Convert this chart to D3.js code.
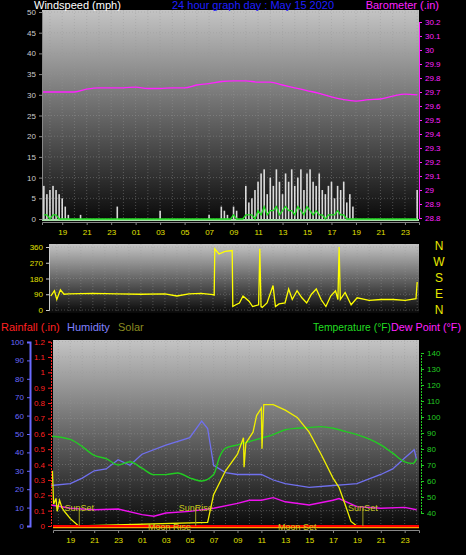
<!DOCTYPE html>
<html><head><meta charset="utf-8">
<script src="https://cdn.jsdelivr.net/npm/d3@7"></script>
<style>body{margin:0;background:#000}svg{display:block;font-family:"Liberation Sans",Arial,sans-serif}</style>
</head><body>
<svg width="466" height="555"></svg>
<script>
const svg = d3.select("svg");

// hours counted from midnight of the previous day (25 = 01:00)
const hourTicks = [19, 21, 23, 25, 27, 29, 31, 33, 35, 37, 39, 41, 43, 45, 47];

const baroTimes = [17.4, 19, 20, 21, 22, 23, 24, 25, 26, 27, 28, 29, 30, 31, 32, 33, 34, 35, 36, 37, 38, 39, 40, 41, 42, 43, 44, 45, 46, 47, 48];
const baroValues = [29.70, 29.70, 29.70, 29.72, 29.73, 29.73, 29.73, 29.735, 29.725, 29.725, 29.73, 29.73, 29.75, 29.76, 29.775, 29.78, 29.78, 29.77, 29.77, 29.75, 29.73, 29.71, 29.69, 29.665, 29.645, 29.635, 29.645, 29.65, 29.67, 29.685, 29.68];

const windTimes = d3.range(17.5, 48.01, 0.25);
const gustValues = [8,6,7,8,7,6,5,3,1,0,0,0,1,0,0,0,0,0,0,0,0,0,0,0,3,0,0,0,0,0,0,0,0,0,0,0,0,0,2,0,0,0,0,0,0,0,0,0,0,0,0,0,0,0,1,0,0,0,3,2,1,0,3,2,0,0,8,4,5,7,9,11,12,6,10,8,12,9,6,11,9,12,8,10,12,7,11,12,9,8,11,7,6,8,9,5,8,7,9,4,6,3,0,0,0,0,0,0,0,0,0,0,0,0,0,0,0,0,0,0,0,0,7];
const avgValues  = [1,1,0,1,1,0,0,0,0,0,0,0,0,0,0,0,0,0,0,0,0,0,0,0,0,0,0,0,0,0,0,0,0,0,0,0,0,0,0,0,0,0,0,0,0,0,0,0,0,0,0,0,0,0,0,0,0,0,0,0,0,0,1,0,0,0,1,1,1,0,2,1,3,1,2,2,3,1,2,3,2,2,1,3,2,1,3,2,1,2,1,1,0,1,1,1,2,1,1,0,0,0,0,0,0,0,0,0,0,0,0,0,0,0,0,0,0,0,0,0,0,0,0];

const dirTimes = [17.5, 17.8, 18.0, 18.3, 18.6, 19, 21, 23, 25, 27, 28, 29, 30, 31, 31.1, 31.15, 31.5, 32, 32.6, 32.65, 32.9, 33.2, 33.5, 34, 34.3, 34.8, 34.9, 35.0, 35.1, 35.5, 36, 36.2, 36.5, 37, 37.3, 37.6, 38, 38.4, 38.8, 39.2, 39.6, 40, 40.4, 40.8, 41.2, 41.4, 41.5, 41.6, 42, 42.5, 43, 44, 45, 46, 47, 47.9, 48];
const dirValues = [80, 110, 60, 115, 90, 92, 95, 92, 90, 92, 80, 92, 95, 88, 85, 350, 320, 335, 340, 20, 30, 40, 80, 50, 20, 30, 350, 20, 15, 40, 140, 20, 35, 40, 120, 60, 110, 70, 40, 90, 120, 60, 20, 80, 110, 60, 360, 60, 100, 30, 70, 55, 60, 60, 55, 65, 160];

const humTimes = [17.4, 19, 20, 21, 22, 23, 24, 25, 27, 29, 30, 30.5, 31, 32, 33, 35, 36, 37, 39, 41, 42, 43, 45, 46, 47, 47.8, 48];
const humValues = [22, 23, 26, 30, 31, 36, 33, 39, 44, 48, 57, 53, 33, 29, 28, 28, 25, 23, 21, 22, 22.5, 23, 28, 31, 37, 41.5, 36];

const tempTimes = [17.4, 19, 20, 21, 22, 23, 24, 25, 26, 27, 28, 29, 30, 31, 31.5, 32, 33, 34, 35, 36, 37, 38, 39, 40, 41, 42, 43, 44, 45, 46, 47, 47.7, 48];
const tempValues = [88, 86, 81.5, 76, 74, 70, 72, 68, 64, 64, 65, 62, 60, 64, 75, 80.5, 82.6, 84.7, 86.8, 89, 92, 93, 93.4, 94, 93, 91, 89, 86.3, 82.6, 77.4, 72, 71, 74];

const dewTimes = [17.4, 19, 21, 23, 25, 26, 27, 29, 31, 33, 34, 35, 36, 37, 39, 41, 41.5, 43, 45, 47, 48];
const dewValues = [45, 43, 42, 42.5, 39, 38, 40, 41, 43, 46, 48, 48, 49.6, 47, 45, 48, 49, 44, 43, 43.5, 42];

const solarTimes = [17.5, 17.6, 17.8, 17.9, 18.1, 18.3, 18.5, 19, 19.7, 30.5, 31, 32, 33, 33.5, 33.55, 33.7, 34.3, 34.6, 35, 35.05, 35.2, 36, 37, 38, 39, 40, 41, 41.5, 42, 42.5, 43, 43.5];
const solarValues = [30, 12, 15, 8, 14, 10, 8, 4, 0, 2, 17, 30, 39, 48, 32, 45, 51, 60, 64, 42, 66, 66, 63, 59, 51, 39, 26, 21, 12, 2.5, 0, 0];

const events = [
  {label: "SunSet", t: 19.75, row: "sun"},
  {label: "SunRise", t: 29.5, row: "sun"},
  {label: "SunSet", t: 43.5, row: "sun"},
  {label: "Moon Rise", t: 27.3, row: "moon"},
  {label: "Moon Set", t: 38.0, row: "moon"}
];

const defs = svg.append("defs");
function gradient(id, top, bottom) {
  const g = defs.append("linearGradient").attr("id", id).attr("x1", 0).attr("x2", 0).attr("y1", 0).attr("y2", 1);
  g.append("stop").attr("offset", "0%").attr("stop-color", top);
  g.append("stop").attr("offset", "100%").attr("stop-color", bottom);
}
gradient("bg", "#c4c4c4", "#080808");

function panel(x0, x1, y0, y1) {
  svg.append("rect").attr("x", x0).attr("y", y0).attr("width", x1 - x0).attr("height", y1 - y0).attr("fill", "url(#bg)");
}
function grid(xs, ys, x0, x1, y0, y1, hours) {
  const g = svg.append("g").attr("stroke", "#9a9a9a").attr("stroke-width", 0.7).attr("stroke-dasharray", "1,2").attr("opacity", 0.6);
  hours.forEach(h => g.append("line").attr("x1", xs(h)).attr("x2", xs(h)).attr("y1", y0).attr("y2", y1));
  ys.forEach(y => g.append("line").attr("x1", x0).attr("x2", x1).attr("y1", y).attr("y2", y));
}
function hourLabel(h) { return d3.format("02d")(h % 24); }
const allHours = d3.range(18, 49);

// ---------- top: wind + barometer ----------
const xTop = d3.scaleLinear().domain([17.35, 48.15]).range([42, 419]);
const yWind = d3.scaleLinear().domain([0, 50]).range([219, 12]);
const yBaro = d3.scaleLinear().domain([28.8, 30.2]).range([218, 22]);
panel(42, 419, 10, 222);
grid(xTop, d3.range(0, 51, 5).map(yWind), 42, 419, 10, 222, allHours);

svg.append("g").selectAll("rect").data(windTimes).join("rect")
  .attr("x", d => xTop(d) - 0.8).attr("width", 1.6)
  .attr("y", (d, i) => yWind(gustValues[i])).attr("height", (d, i) => yWind(0) - yWind(gustValues[i]))
  .attr("fill", "#f0f0f0").attr("opacity", 0.9);
svg.append("line").attr("x1", 42).attr("x2", 419).attr("y1", yWind(0) + 1).attr("y2", yWind(0) + 1).attr("stroke", "#a8e0a8").attr("stroke-width", 2);
svg.append("path").datum(windTimes).attr("fill", "none").attr("stroke", "#22dd22").attr("stroke-width", 1.3)
  .attr("d", d3.line().x(d => xTop(d)).y((d, i) => yWind(avgValues[i])));
svg.append("path").datum(baroTimes).attr("fill", "none").attr("stroke", "#ff22ff").attr("stroke-width", 1.3)
  .attr("d", d3.line().x(d => xTop(d)).y((d, i) => yBaro(baroValues[i])).curve(d3.curveMonotoneX));

svg.append("g").attr("transform", "translate(42,0)")
  .call(d3.axisLeft(yWind).tickValues(d3.range(0, 51, 5)).tickSize(3))
  .call(g => { g.select(".domain").attr("stroke", "#888"); g.selectAll("line").attr("stroke", "#888");
    g.selectAll("text").attr("fill", "#ccc").attr("font-size", 8); });
svg.append("g").attr("transform", "translate(419,0)")
  .call(d3.axisRight(yBaro).tickValues(d3.range(28.8, 30.21, 0.1)).tickFormat(d3.format("~g")).tickSize(3))
  .call(g => { g.select(".domain").attr("stroke", "#ff22ff"); g.selectAll("line").attr("stroke", "#ff22ff");
    g.selectAll("text").attr("fill", "#ff22ff").attr("font-size", 8); });
svg.append("g").attr("transform", "translate(0,222)")
  .call(d3.axisBottom(xTop).tickValues(hourTicks).tickFormat(hourLabel).tickSize(3))
  .call(g => { g.select(".domain").attr("stroke", "#888"); g.selectAll("line").attr("stroke", "#888");
    g.selectAll("text").attr("fill", "#e0e000").attr("font-size", 8).attr("dy", "0.9em"); });

svg.append("text").attr("x", 34).attr("y", 9).attr("fill", "#fff").attr("font-size", 11).text("Windspeed (mph)");
svg.append("text").attr("x", 172).attr("y", 9).attr("fill", "#1f1fff").attr("font-size", 11).text("24 hour graph day : May 15 2020");
svg.append("text").attr("x", 439).attr("y", 9).attr("text-anchor", "end").attr("fill", "#ff22ff").attr("font-size", 11).text("Barometer (.in)");

// ---------- middle: wind direction ----------
const xMid = d3.scaleLinear().domain([17.35, 48.15]).range([49, 419]);
const yDir = d3.scaleLinear().domain([0, 360]).range([310, 247]);
panel(49, 419, 244, 313);
grid(xMid, [0, 90, 180, 270, 360].map(yDir), 49, 419, 244, 313, allHours);
svg.append("path").datum(dirTimes).attr("fill", "none").attr("stroke", "#ffff00").attr("stroke-width", 1.3)
  .attr("d", d3.line().x(d => xMid(d)).y((d, i) => yDir(dirValues[i])));
svg.append("g").attr("transform", "translate(49,0)")
  .call(d3.axisLeft(yDir).tickValues([0, 90, 180, 270, 360]).tickSize(3))
  .call(g => { g.select(".domain").attr("stroke", "#ccc"); g.selectAll("line").attr("stroke", "#ccc");
    g.selectAll("text").attr("fill", "#e0e000").attr("font-size", 8); });
svg.append("g").selectAll("text").data(["N", "W", "S", "E", "N"]).join("text")
  .attr("x", 439).attr("y", (d, i) => 250 + i * 16).attr("text-anchor", "middle")
  .attr("fill", "#e8e800").attr("font-size", 12).text(d => d);

// ---------- bottom: rain, humidity, solar, temperature, dew point ----------
const xBot = d3.scaleLinear().domain([17.55, 48.2]).range([53, 419]);
const yHum = d3.scaleLinear().domain([0, 100]).range([526, 342]);
const yRain = d3.scaleLinear().domain([0, 1.2]).range([526, 341.6]);
const yTemp = d3.scaleLinear().domain([40, 140]).range([513, 353]);
panel(53, 419, 340, 528);
grid(xBot, d3.range(0, 1.21, 0.1).map(yRain), 53, 419, 340, 528, allHours);

svg.append("path").datum(humTimes).attr("fill", "none").attr("stroke", "#7070ee").attr("stroke-width", 1.3)
  .attr("d", d3.line().x(d => xBot(d)).y((d, i) => yHum(humValues[i])));
svg.append("path").datum(tempTimes).attr("fill", "none").attr("stroke", "#22cc22").attr("stroke-width", 1.4)
  .attr("d", d3.line().x(d => xBot(d)).y((d, i) => yTemp(tempValues[i])).curve(d3.curveMonotoneX));
svg.append("path").datum(dewTimes).attr("fill", "none").attr("stroke", "#ee11ee").attr("stroke-width", 1.4)
  .attr("d", d3.line().x(d => xBot(d)).y((d, i) => yTemp(dewValues[i])));
svg.append("path").datum(solarTimes).attr("fill", "none").attr("stroke", "#f0f000").attr("stroke-width", 1.3)
  .attr("d", d3.line().x(d => xBot(d)).y((d, i) => yHum(solarValues[i])));
svg.append("line").attr("x1", 53).attr("x2", 419).attr("y1", yRain(0) + 1.5).attr("y2", yRain(0) + 1.5).attr("stroke", "#ffa000").attr("stroke-width", 1.5);
svg.append("line").attr("x1", 53).attr("x2", 419).attr("y1", yRain(0)).attr("y2", yRain(0)).attr("stroke", "#ff0000").attr("stroke-width", 1.8);

const ev = svg.append("g");
events.forEach(e => {
  const x = xBot(e.t);
  if (e.row === "sun") {
    ev.append("line").attr("x1", x).attr("x2", x).attr("y1", 508).attr("y2", 526).attr("stroke", "#a0a020");
    ev.append("text").attr("x", x).attr("y", 511).attr("text-anchor", "middle").attr("fill", "#c8c820").attr("font-size", 9).text(e.label);
  } else {
    ev.append("text").attr("x", x).attr("y", 530).attr("text-anchor", "middle").attr("fill", "#c8c820").attr("font-size", 9).text(e.label);
  }
});

svg.append("g").attr("transform", "translate(30,0)")
  .call(d3.axisLeft(yHum).tickValues(d3.range(0, 101, 10)).tickSize(3))
  .call(g => { g.select(".domain").attr("stroke", "#6a6aff").attr("stroke-width", 2); g.selectAll("line").attr("stroke", "#6a6aff");
    g.selectAll("text").attr("fill", "#6a6aff").attr("font-size", 8); });
svg.append("g").attr("transform", "translate(51,0)")
  .call(d3.axisLeft(yRain).tickValues(d3.range(0, 1.21, 0.1)).tickFormat(d3.format("~g")).tickSize(3))
  .call(g => { g.select(".domain").attr("stroke", "#ff2020").attr("stroke-dasharray", "2,1"); g.selectAll("line").attr("stroke", "#ff2020");
    g.selectAll("text").attr("fill", "#ff2020").attr("font-size", 8); });
svg.append("g").attr("transform", "translate(421,0)")
  .call(d3.axisRight(yTemp).tickValues(d3.range(40, 141, 10)).tickSize(3))
  .call(g => { g.select(".domain").attr("stroke", "#22cc22").attr("stroke-dasharray", "2,1"); g.selectAll("line").attr("stroke", "#22cc22");
    g.selectAll("text").attr("fill", "#22cc22").attr("font-size", 8); });
svg.append("g").attr("transform", "translate(0,530)")
  .call(d3.axisBottom(xBot).tickValues(hourTicks).tickFormat(hourLabel).tickSize(3))
  .call(g => { g.select(".domain").attr("stroke", "#888"); g.selectAll("line").attr("stroke", "#888");
    g.selectAll("text").attr("fill", "#e0e000").attr("font-size", 8).attr("dy", "0.9em"); });

const leg = svg.append("g").attr("font-size", 11);
leg.append("text").attr("x", 1).attr("y", 331).attr("fill", "#ff2020").text("Rainfall (.in)");
leg.append("text").attr("x", 67).attr("y", 331).attr("fill", "#8080ff").text("Humidity");
leg.append("text").attr("x", 118).attr("y", 331).attr("fill", "#8a8a20").text("Solar");
const dew = leg.append("text").attr("x", 461).attr("y", 331).attr("text-anchor", "end").attr("fill", "#ff22ff")
  .attr("textLength", 70).attr("lengthAdjust", "spacingAndGlyphs").text("Dew Point (°F)");
leg.append("text").attr("x", 391).attr("y", 331).attr("text-anchor", "end").attr("fill", "#22dd22")
  .attr("textLength", 78).attr("lengthAdjust", "spacingAndGlyphs").text("Temperature (°F)");
</script>
</body></html>
